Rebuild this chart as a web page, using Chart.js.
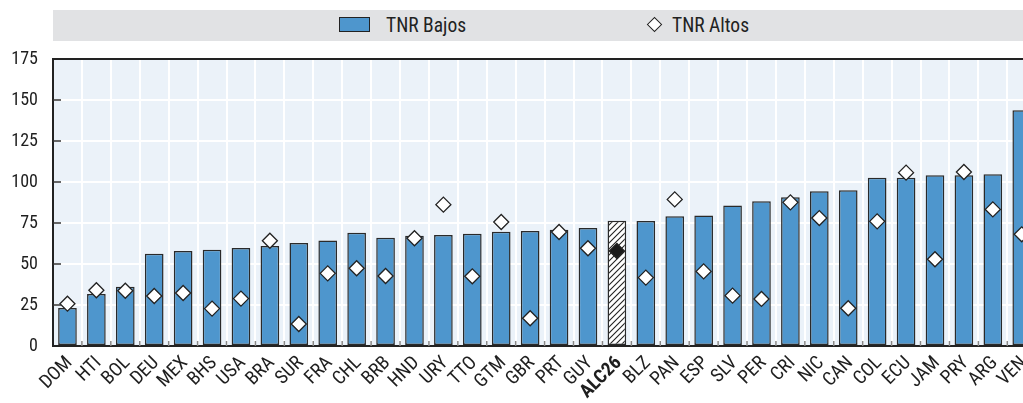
<!DOCTYPE html>
<html>
<head>
<meta charset="utf-8">
<script src="https://cdn.jsdelivr.net/npm/chart.js@4/dist/chart.umd.min.js"></script>
<style>
html,body{margin:0;padding:0;background:#fff;overflow:hidden;width:1023px;height:403px;}
#wrap{position:relative;width:1023px;height:403px;overflow:hidden;}
canvas{position:absolute;left:0;top:0;}
#legend{position:absolute;left:53px;top:10px;width:1000px;height:31px;background:#E1E2E4;font-family:Roboto,sans-serif;font-stretch:condensed;font-size:19.5px;color:#222;}
.sw{position:absolute;left:286px;top:7px;width:29px;height:13px;background:#4E96CD;border:1.5px solid #222;}
.t1{position:absolute;left:333px;top:0;line-height:31px;}
.dm{position:absolute;left:596px;top:9px;width:9px;height:9px;background:#fff;border:1.5px solid #222;transform:rotate(45deg);}
.t2{position:absolute;left:619px;top:0;line-height:31px;}
</style>
</head>
<body>
<div id="wrap">
<div id="legend"><div class="sw"></div><div class="t1">TNR Bajos</div><div class="dm"></div><div class="t2">TNR Altos</div></div>
<canvas id="c" width="1045" height="403"></canvas>
</div>
<script>
const categories = ['DOM','HTI','BOL','DEU','MEX','BHS','USA','BRA','SUR','FRA','CHL','BRB','HND','URY','TTO','GTM','GBR','PRT','GUY','ALC26','BLZ','PAN','ESP','SLV','PER','CRI','NIC','CAN','COL','ECU','JAM','PRY','ARG','VEN'];
const tnrBajos = [23.2,31.7,36.2,56.3,57.9,58.7,59.8,61.0,62.8,64.4,69.1,66.0,67.3,67.7,68.5,69.7,70.1,70.9,72.0,76.4,76.2,79.1,79.5,85.6,88.2,90.7,94.3,94.9,102.6,102.6,104.1,104.1,104.7,143.7];
const tnrAltos = [25.8,34.0,33.7,30.5,32.3,22.8,28.9,64.2,13.4,44.3,47.4,42.7,65.7,86.2,42.5,75.6,16.9,69.5,59.6,57.9,41.7,89.4,45.5,30.7,28.7,87.6,78.0,23.0,76.0,105.7,52.9,106.1,83.3,68.1];
const yTicks = [0,25,50,75,100,125,150,175];
const highlight = 'ALC26';

const FONT = 'Roboto, sans-serif';
const BLUE = '#4E96CD';

function hatch(){
  const p = document.createElement('canvas');
  p.width = 6; p.height = 6;
  const g = p.getContext('2d');
  g.fillStyle = '#fff'; g.fillRect(0,0,6,6);
  g.strokeStyle = '#222'; g.lineWidth = 1.1;
  g.beginPath();
  g.moveTo(-1,7); g.lineTo(7,-1);
  g.moveTo(-4,4); g.lineTo(4,-4);
  g.moveTo(2,10); g.lineTo(10,2);
  g.stroke();
  return g.createPattern(p,'repeat');
}
const hatchPat = hatch();

const bgPlugin = {
  id:'bg',
  beforeDraw(chart){
    const {ctx, chartArea:a} = chart;
    ctx.save();
    ctx.fillStyle = '#EBF2F9';
    ctx.fillRect(a.left, a.top, a.right-a.left, a.bottom-a.top);
    ctx.restore();
  },
  afterDatasetsDraw(chart){
    const {ctx, chartArea:a, scales} = chart;
    ctx.save();
    ctx.strokeStyle = '#333'; ctx.lineWidth = 1.5;
    yTicks.forEach(v=>{
      if (v===0 || v===175) return;
      const y = Math.round(scales.y.getPixelForValue(v));
      ctx.beginPath(); ctx.moveTo(a.left, y); ctx.lineTo(a.left+8, y); ctx.stroke();
    });
    ctx.strokeStyle = '#888'; ctx.lineWidth = 1.5;
    for (let i=0;i<categories.length-1;i++){
      const x = (scales.x.getPixelForValue(i)+scales.x.getPixelForValue(i+1))/2;
      ctx.beginPath(); ctx.moveTo(x, a.bottom); ctx.lineTo(x, a.bottom-5); ctx.stroke();
    }
    ctx.restore();
  }
};

new Chart(document.getElementById('c'), {
  data:{
    labels: categories,
    datasets:[
      {
        type:'line',
        label:'TNR Altos',
        data: tnrAltos,
        showLine:false,
        pointStyle:'rectRot',
        pointRadius:7.5,
        pointHoverRadius:7.5,
        pointBorderWidth:1.3,
        pointBorderColor:'#222',
        pointBackgroundColor: categories.map(c=> c===highlight ? '#1a1a1a' : '#fff'),
        order:0
      },
      {
        type:'bar',
        label:'TNR Bajos',
        data: tnrBajos,
        backgroundColor: categories.map(c=> c===highlight ? hatchPat : BLUE),
        borderColor:'#2a2a2a',
        borderWidth:1.5,
        borderSkipped:false,
        barPercentage:0.645,
        categoryPercentage:1,
        order:1
      }
    ]
  },
  options:{
    responsive:false,
    devicePixelRatio:1,
    animation:false,
    layout:{padding:{left:0,right:0,top:59,bottom:0}},
    plugins:{legend:{display:false},tooltip:{enabled:false}},
    scales:{
      x:{
        offset:true,
        grid:{offset:true,color:'#fff',lineWidth:2,drawTicks:false},
        border:{display:true,color:'#222',width:2},
        ticks:{
          autoSkip:false,maxRotation:45,minRotation:45,padding:6,labelOffset:2,color:'#1e1e1e',
          font:(c)=>({family:FONT,size:19,weight: categories[c.index]===highlight ? 'bold condensed':'condensed'})
        },
        afterFit(s){ s.height = 57; }
      },
      y:{
        min:0,max:175,
        afterBuildTicks(s){ s.ticks = yTicks.map(v=>({value:v})); },
        grid:{color:(c)=> c.tick && c.tick.value===175 ? '#222' : '#fff', lineWidth:2, drawTicks:false},
        border:{display:true,color:'#222',width:2},
        ticks:{padding:15,color:'#1e1e1e',font:{family:FONT,size:18,weight:'condensed'}},
        afterFit(s){ s.width = 53; }
      }
    }
  },
  plugins:[bgPlugin]
});
</script>
</body>
</html>
